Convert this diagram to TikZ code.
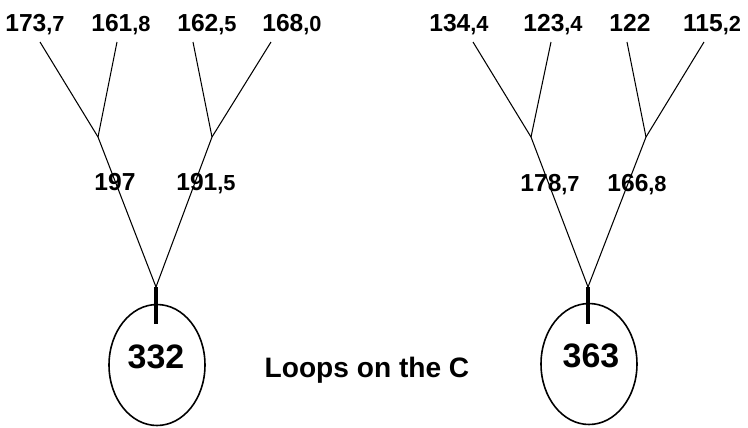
\documentclass[tikz,border=0pt]{standalone}
\usepackage{fontspec}
\setmainfont{Liberation Sans}
\usetikzlibrary{shapes}
\newcommand{\decpart}[1]{{\fontsize{12.4}{14}\selectfont #1}}

\begin{document}
\begin{tikzpicture}[x=0.02cm,y=-0.02cm,
	every node/.style={inner sep=0pt,font=\bfseries\fontsize{14}{16}\selectfont},
	num/.style={anchor=base},
	big/.style={anchor=base,font=\bfseries\fontsize{19.3}{21}\selectfont},
	title/.style={anchor=base,font=\bfseries\fontsize{16}{18}\selectfont},
	branch/.style={line width=0.6pt},
	stem/.style={line width=2.6pt},
	ring/.style={draw,ellipse,line width=0.9pt,minimum width=1.92cm,minimum height=2.42cm}]
	\useasboundingbox (0,0) rectangle (748,427);

	% left tree
	\coordinate (la) at (40,42);
	\coordinate (lb) at (117,42);
	\coordinate (lc) at (193,42);
	\coordinate (ld) at (271,42);
	\coordinate (j1) at (98,137);
	\coordinate (j2) at (212,137);
	\coordinate (lroot) at (156,287);
	\coordinate (lstem) at (156,324);
	\node[ring] (lring) at (157,365) {};

	% right tree
	\coordinate (ra) at (473,42);
	\coordinate (rb) at (551,42);
	\coordinate (rc) at (627,42);
	\coordinate (rd) at (704,42);
	\coordinate (j3) at (531,137);
	\coordinate (j4) at (646,137);
	\coordinate (rroot) at (588,287);
	\coordinate (rstem) at (588,324);
	\node[ring] (rring) at (589,364) {};

	\path[branch]
		(la) edge (j1)
		(lb) edge (j1)
		(lc) edge (j2)
		(ld) edge (j2)
		(j1) edge (lroot)
		(j2) edge (lroot)
		(ra) edge (j3)
		(rb) edge (j3)
		(rc) edge (j4)
		(rd) edge (j4)
		(j3) edge (rroot)
		(j4) edge (rroot);
	\draw[stem] (lroot) -- (lstem);
	\draw[stem] (rroot) -- (rstem);

	\node[num] (v1) at (35,31) {173\decpart{,7}};
	\node[num] (v2) at (121,31) {161\decpart{,8}};
	\node[num] (v3) at (207,31) {162\decpart{,5}};
	\node[num] (v4) at (292,31) {168\decpart{,0}};
	\node[num] (v5) at (115,190) {197};
	\node[num] (v6) at (206,190) {191\decpart{,5}};
	\node[big] (v7) at (156,368) {332};

	\node[num] (w1) at (459,31) {134\decpart{,4}};
	\node[num] (w2) at (553,31) {123\decpart{,4}};
	\node[num] (w3) at (630,31) {122};
	\node[num] (w4) at (712,31) {115\decpart{,2}};
	\node[num] (w5) at (550,191) {178\decpart{,7}};
	\node[num] (w6) at (637,191) {166\decpart{,8}};
	\node[big] (w7) at (591,367) {363};

	\node[title] (caption) at (367,377) {Loops on the C};
\end{tikzpicture}
\end{document}
